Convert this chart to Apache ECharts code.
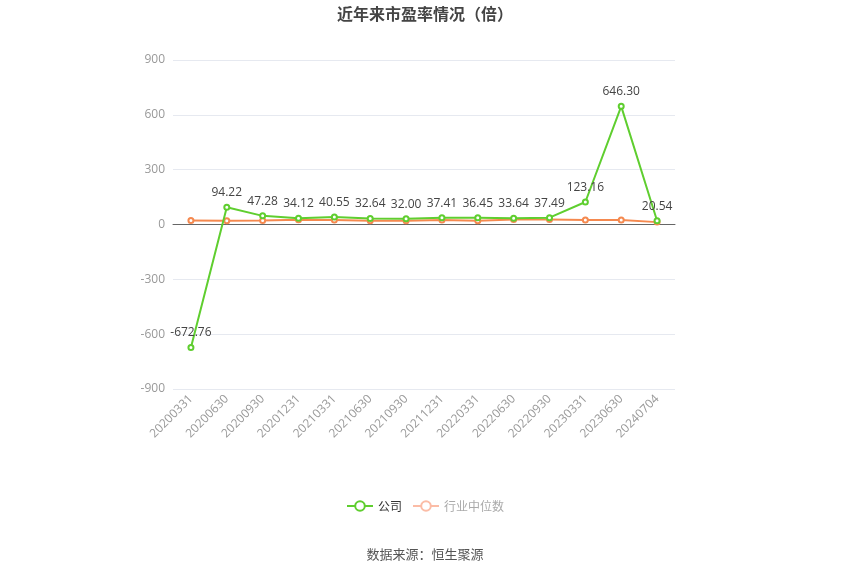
<!DOCTYPE html>
<html><head><meta charset="utf-8">
<script src="https://cdn.jsdelivr.net/npm/echarts@6/dist/echarts.min.js"></script>
<style>html,body{margin:0;padding:0;background:#fff}#c{width:850px;height:575px}</style>
</head><body><div id="c"></div>
<script>
const categories = ['20200331','20200630','20200930','20201231','20210331','20210630','20210930','20211231','20220331','20220630','20220930','20230331','20230630','20240704'];
const companyPE = [-672.76,94.22,47.28,34.12,40.55,32.64,32.00,37.41,36.45,33.64,37.49,123.16,646.30,20.54];
const industryPE = [22,20,22,26,25,21,20,24,21,27,27,24,25,13];
const yTicks = [-900,-600,-300,0,300,600,900];

const chart = echarts.init(document.getElementById('c'));
chart.setOption({
  animation:false,
  title:{text:'近年来市盈率情况（倍）',left:'center',top:1,textStyle:{fontSize:16,fontWeight:'bold',color:'#444',fontFamily:'Noto Sans CJK SC'}},
  legend:{top:495,left:'center',itemGap:10,itemWidth:26,itemHeight:12,textStyle:{fontSize:12,color:'#333',fontFamily:'Noto Sans CJK SC'},
    data:[{name:'公司'},{name:'行业中位数',itemStyle:{color:'#fff',borderColor:'#fbbca6'},lineStyle:{color:'#fbbca6'},textStyle:{color:'#aaa'}}]},
  graphic:[{type:'text',left:'center',top:548,style:{text:'数据来源：恒生聚源',fontSize:13,fill:'#555',fontFamily:'Noto Sans CJK SC'}}],
  grid:{left:173,right:175,top:60,height:329},
  xAxis:{type:'category',data:categories,boundaryGap:true,
    axisLine:{onZero:true,lineStyle:{color:'#666'}},axisTick:{alignWithLabel:true,lineStyle:{color:'#666'}},
    axisLabel:{rotate:45,color:'#999',fontSize:12,interval:0,margin:8,fontFamily:'Open Sans'}},
  yAxis:{type:'value',min:yTicks[0],max:yTicks[yTicks.length-1],interval:300,
    axisLine:{show:false},axisTick:{show:false},
    axisLabel:{color:'#999',fontSize:12,fontFamily:'Open Sans'},
    splitLine:{lineStyle:{color:'#e6e9f0'}}},
  series:[
    {name:'公司',type:'line',data:companyPE,symbol:'circle',symbolSize:5,showAllSymbol:true,
      itemStyle:{color:'#fff',borderColor:'#5fce2f',borderWidth:2},lineStyle:{color:'#5fce2f',width:2},
      label:{show:true,position:'top',color:'#444',fontSize:12,fontFamily:'Open Sans',formatter:p=>p.value.toFixed(2)},z:3},
    {name:'行业中位数',type:'line',data:industryPE,symbol:'circle',symbolSize:5,showAllSymbol:true,
      itemStyle:{color:'#fff',borderColor:'#f5894f',borderWidth:2},lineStyle:{color:'#f5894f',width:2},z:2}
  ]
});
</script></body></html>
